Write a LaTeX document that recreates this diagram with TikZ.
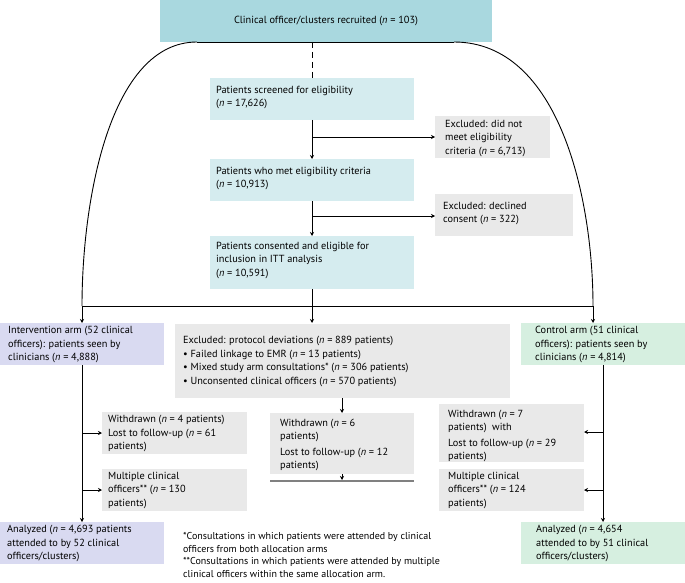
\documentclass[tikz,border=0pt]{standalone}
\usepackage{fontspec}
\setmainfont{PT Sans}
\usetikzlibrary{arrows.meta}
\definecolor{cTop}{HTML}{A9D8DF}
\definecolor{cBlue}{HTML}{D5ECEF}
\definecolor{cGray}{HTML}{E9E9E9}
\definecolor{cPur}{HTML}{D9DAF1}
\definecolor{cGrn}{HTML}{D6EFE0}
\begin{document}
\begin{tikzpicture}[x=1pt,y=-1pt,
  font=\fontsize{10.3}{13.5}\selectfont,
  bx/.style={anchor=north west,inner sep=0pt,align=left,minimum height=#1},
  lbl/.style={anchor=north west,inner sep=6pt,align=left,text depth=0pt},
  arr/.style={-{Stealth[length=4pt,width=4pt]},line width=0.9pt},
  ln/.style={line width=0.9pt}]
\useasboundingbox (0,0) rectangle (685,583);
% boxes
\fill[cTop] (160,0) rectangle (492,42); \node (top) at (326,21) {Clinical officer/clusters recruited (\textit{n} = 103)};
\fill[cBlue] (210,78) rectangle (414,120); \node[lbl] (scr) at (210,80) {Patients screened for eligibility\\(\textit{n} = 17,626)};
\fill[cGray] (435,116) rectangle (550,158); \node[lbl,inner sep=4pt] (ex1) at (441,116) {Excluded: did not\\meet eligibility\\criteria (\textit{n} = 6,713)};
\fill[cBlue] (210,159) rectangle (414,201); \node[lbl] (met) at (210,161) {Patients who met eligibility criteria\\(\textit{n} = 10,913)};
\fill[cGray] (435,194) rectangle (573,236); \node[lbl] (ex2) at (437,196) {Excluded: declined\\consent (\textit{n} = 322)};
\fill[cBlue] (210,236) rectangle (414,289); \node[lbl] (con) at (210,236) {Patients consented and eligible for\\inclusion in ITT analysis\\(\textit{n} = 10,591)};
\fill[cPur] (0,323) rectangle (164,365); \node[lbl,inner sep=3pt] (int) at (5,323) {Intervention arm (52 clinical\\officers): patients seen by\\clinicians (\textit{n} = 4,888)};
\fill[cGray] (175,324) rectangle (510,398); \node[lbl,inner sep=3pt] (prot) at (180,333) {Excluded: protocol deviations (\textit{n} = 889 patients)\\ • Failed linkage to EMR (\textit{n} = 13 patients)\\ • Mixed study arm consultations* (\textit{n} = 306 patients)\\ • Unconsented clinical officers (\textit{n} = 570 patients)};
\fill[cGrn] (521,323) rectangle (685,365); \node[lbl,inner sep=3pt] (ctl) at (532,323) {Control arm (51 clinical\\officers): patients seen by\\clinicians (\textit{n} = 4,814)};
\fill[cGray] (102,412) rectangle (247,454); \node[lbl,inner sep=3pt] (wl) at (105,412) {Withdrawn (\textit{n} = 4 patients)\\Lost to follow-up (\textit{n} = 61\\patients)};
\fill[cGray] (102,469) rectangle (247,511); \node[lbl,inner sep=3pt] (ml) at (105,469) {Multiple clinical\\officers** (\textit{n} = 130\\patients)};
\fill[cGray] (270,413) rectangle (414,474); \node[lbl,inner sep=3pt,font=\fontsize{10.3}{12.5}\selectfont] (wm) at (277,416) {Withdrawn (\textit{n} = 6\\patients)\\[4pt]Lost to follow-up (\textit{n} = 12\\patients)};
\fill[cGray] (439,404) rectangle (584,462); \node[lbl,inner sep=3pt,font=\fontsize{10.3}{12.5}\selectfont] (wr) at (445,407) {Withdrawn (\textit{n} = 7\\patients)\ \ with\\[4pt]Lost to follow-up (\textit{n} = 29\\patients)};
\fill[cGray] (439,469) rectangle (584,511); \node[lbl,inner sep=3pt] (mr) at (445,469) {Multiple clinical\\officers** (\textit{n} = 124\\patients)};
\fill[cPur] (0,522) rectangle (164,564); \node[lbl,inner sep=3pt] (al) at (4,522) {Analyzed (\textit{n} = 4,693 patients\\attended to by 52 clinical\\officers/clusters)};
\fill[cGrn] (521,522) rectangle (685,564); \node[lbl,inner sep=3pt] (ar) at (533,522) {Analyzed (\textit{n} = 4,654\\attended to by 51 clinical\\officers/clusters)};
\node[lbl,inner sep=0pt,font=\fontsize{10}{12.7}\selectfont] (fn) at (183,532) {*Consultations in which patients were attended by clinical\\officers from both allocation arms\\**Consultations in which patients were attended by multiple\\clinical officers within the same allocation arm.};
% coordinates
\coordinate (a1) at (197,42); \coordinate (a2) at (454,42);
\coordinate (L) at (82,306); \coordinate (R) at (593,306); \coordinate (M) at (312,306);
% connectors
\draw[ln] (L) -- (R);
\draw[ln] (a1) -- (a2);
\draw[ln] (a1) .. controls (110,42) and (82,200) .. (L);
\draw[ln] (a2) .. controls (560,42) and (593,200) .. (R);
\draw[ln,dashed,dash pattern=on 6pt off 4pt] (312,42) -- (312,78);
\draw[arr] (312,120) -- (312,159);
\draw[arr] (312,137) -- (435,137);
\draw[arr] (312,201) -- (312,236);
\draw[arr] (312,216) -- (435,216);
\draw[ln] (312,289) -- (M);
\draw[arr] (M) -- (312,323);
\draw[arr] (L) -- (82,323);
\draw[arr] (R) -- (593,323);
\draw[arr] (82,365) -- (82,522);
\draw[arr] (82,433) -- (102,433);
\draw[arr] (82,490) -- (102,490);
\draw[arr] (603,365) -- (603,522);
\draw[arr] (603,432) -- (584,432);
\draw[arr] (603,490) -- (584,490);
\draw[arr] (342,398) -- (342,413);
\draw[arr,line width=0.6pt] (342,474) -- (342,480);
\draw[gray,line width=1.2pt] (270,481) -- (414,481);
\end{tikzpicture}
\end{document}
